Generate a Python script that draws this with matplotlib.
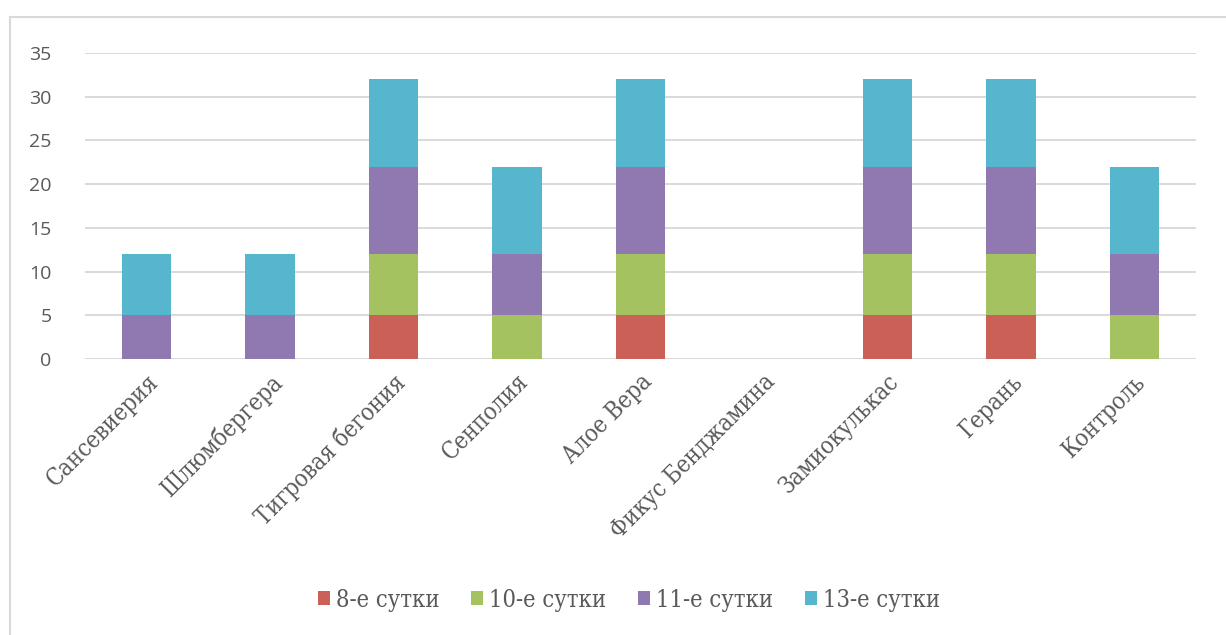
import matplotlib
matplotlib.use("Agg")
import matplotlib.pyplot as plt
from matplotlib.lines import Line2D
import numpy as np

categories = ["Сансевиерия", "Шлюмбергера", "Тигровая бегония", "Сенполия",
              "Алое Вера", "Фикус Бенджамина", "Замиокулькас", "Герань", "Контроль"]
series_names = ["8-е сутки", "10-е сутки", "11-е сутки", "13-е сутки"]
day8 = [0, 0, 5, 0, 5, 0, 5, 5, 0]
day10 = [0, 0, 7, 5, 7, 0, 7, 7, 5]
day11 = [5, 5, 10, 7, 10, 0, 10, 10, 7]
day13 = [7, 7, 10, 10, 10, 0, 10, 10, 10]
colors = ["#cb6056", "#a5c261", "#8f79b0", "#55b6cd"]
y_ticks = [0, 5, 10, 15, 20, 25, 30, 35]

W, H = 1226, 635
fig = plt.figure(figsize=(W / 100, H / 100), dpi=100)
ax = fig.add_axes([85 / W, 1 - 359 / H, (1196 - 85) / W, (359 - 53) / H])

x = np.arange(len(categories))
bottom = np.zeros(len(categories))
handles = []
for name, vals, c in zip(series_names, [day8, day10, day11, day13], colors):
    vals = np.array(vals, dtype=float)
    b = ax.bar(x, vals, 0.4, bottom=bottom, color=c, label=name, zorder=3)
    bottom += vals
    handles.append(b)

ax.set_xlim(-0.5, len(categories) - 0.5)
ax.set_ylim(0, 35)
ax.set_yticks(y_ticks)
ax.yaxis.grid(True, color="#d9d9d9", linewidth=1.4, zorder=0)
ax.set_axisbelow(True)
for s in ax.spines.values():
    s.set_visible(False)
ax.tick_params(axis="both", length=0)
ax.tick_params(axis="y", pad=24, labelsize=14, labelcolor="#595959")
for lab in ax.get_yticklabels():
    lab.set_fontfamily("Open Sans")
    lab.set_horizontalalignment("right")

ax.set_xticks(x)
ax.set_xticklabels(categories, rotation=45, ha="right", rotation_mode="anchor",
                   fontsize=17, color="#595959", fontfamily="DejaVu Serif",
                   fontstretch="condensed")
ax.tick_params(axis="x", pad=8)

leg = fig.legend(handles=handles, labels=series_names, loc="center",
                 bbox_to_anchor=(629 / W, 1 - 600 / H), ncol=4, frameon=False,
                 prop={"family": "DejaVu Serif", "size": 17, "stretch": "condensed"},
                 handlelength=0.5, handleheight=0.5, handletextpad=0.25,
                 columnspacing=1.35)
for t in leg.get_texts():
    t.set_color("#595959")

# chart frame (left and top edges)
fig.add_artist(Line2D([10 / W, 10 / W], [0, 1 - 17 / H], color="#d9d9d9", lw=1.5,
                      transform=fig.transFigure))
fig.add_artist(Line2D([10 / W, 1], [1 - 17 / H, 1 - 17 / H], color="#d9d9d9", lw=1.5,
                      transform=fig.transFigure))

fig.savefig("out.png", dpi=100, facecolor="white")
